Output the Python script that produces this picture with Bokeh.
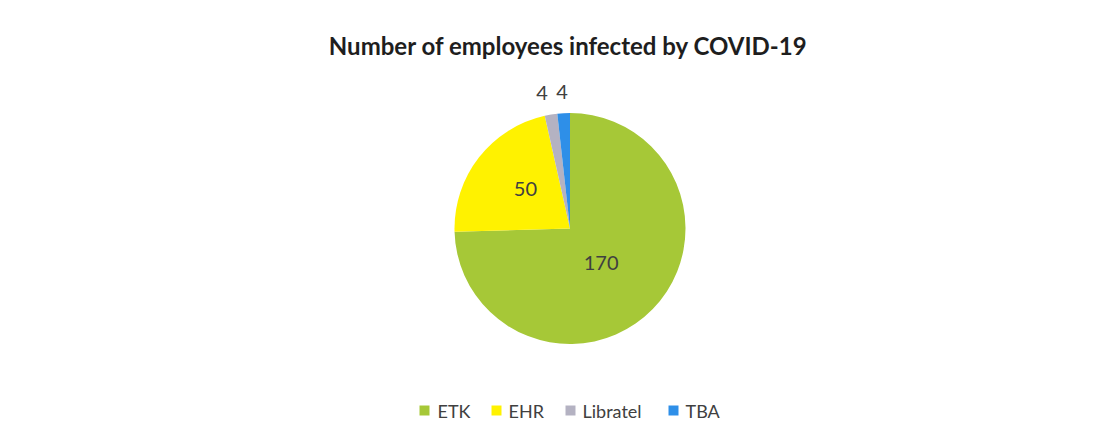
import math
from bokeh.plotting import figure
from bokeh.models import ColumnDataSource, Range1d
from bokeh.core.properties import value
from bokeh.embed import file_html
from bokeh.resources import INLINE

# ---- data ----
categories = ["ETK", "EHR", "Libratel", "TBA"]
counts = [170, 50, 4, 4]
title_text = "Number of employees infected by COVID-19"

# ---- style ----
colors = ["#A6C837", "#FFF200", "#B4B2C2", "#2E8FE8"]
label_r = [0.40, 0.515, 1.194, 1.18]      # label distance as fraction of radius
label_shift = [3.4, 3.5, -2.2, -0.2]       # angular nudge (deg, clockwise) for labels
FONT = "Lato"
W, H = 1104, 427
CX, CY, R = 569.5, 427 - 228, 115.5

p = figure(width=W, height=H, output_backend="svg", toolbar_location=None,
           x_range=Range1d(0, W), y_range=Range1d(0, H), min_border=0)
p.axis.visible = False
p.grid.visible = False
p.outline_line_color = None
p.background_fill_color = "white"
p.border_fill_color = "white"

total = float(sum(counts))
starts, ends, lx, ly = [], [], [], []
acc = 0.0
for i, c in enumerate(counts):
    a0 = acc / total * 360.0
    acc += c
    a1 = acc / total * 360.0
    # bokeh angles: counterclockwise from +x; pie starts at 12 o'clock, clockwise
    starts.append(math.radians(90 - a0))
    ends.append(math.radians(90 - a1))
    mid = (a0 + a1) / 2 + label_shift[i]
    rr = R * label_r[i]
    lx.append(CX + rr * math.sin(math.radians(mid)))
    ly.append(CY + rr * math.cos(math.radians(mid)))

src = ColumnDataSource(dict(cat=categories, cnt=[str(c) for c in counts],
                            s=starts, e=ends, col=colors, lx=lx, ly=ly))
p.wedge(x=CX, y=CY, radius=R, start_angle="s", end_angle="e", direction="clock",
        fill_color="col", line_color=None, source=src)

p.text(x="lx", y="ly", text="cnt", source=src, text_font=value(FONT),
       text_font_size="20px", text_color="#404040", text_align="center",
       text_baseline="middle")

# title
p.text(x=[568], y=[427 - 45], text=[title_text], text_font=value(FONT),
       text_font_size="24px", text_font_style="bold", text_color="#1E1E1E",
       text_align="center", text_baseline="middle")

# legend
sq_x = [424, 496, 570, 673]
txt_x = [437, 508, 582, 685]
leg_y = 427 - 410
p.rect(x=sq_x, y=[leg_y] * 4, width=10, height=10, fill_color=colors, line_color=None)
p.text(x=txt_x, y=[leg_y] * 4, text=categories, text_font=value(FONT),
       text_font_size="18px", text_color="#404040", text_align="left",
       text_baseline="middle")

open("out.html", "w").write(file_html(p, INLINE))
